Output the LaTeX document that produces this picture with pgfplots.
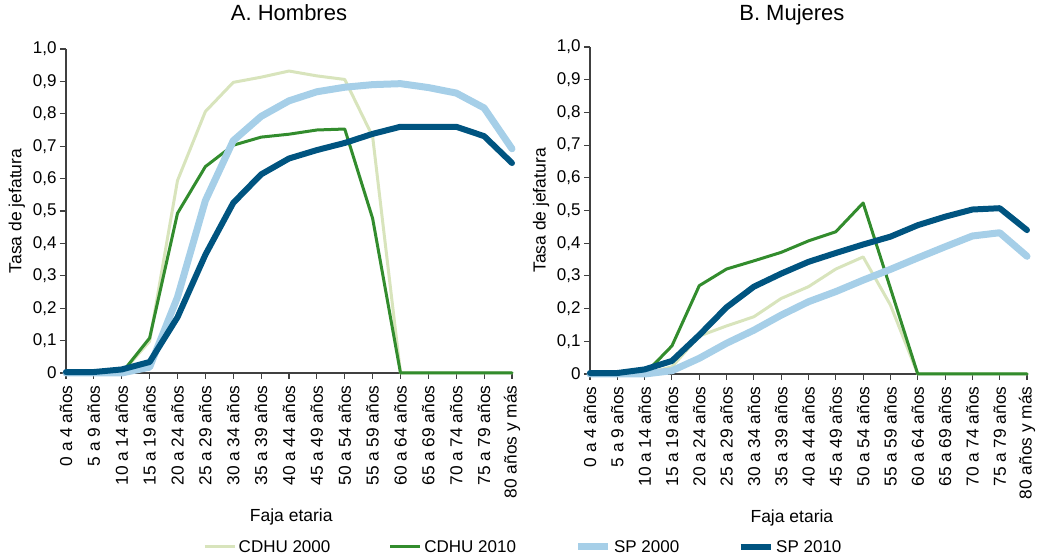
\documentclass[border=0pt]{standalone}
\usepackage{fontspec}
\setmainfont{Liberation Sans}
\usepackage{pgfplots}
\usepackage{pgfplotstable}
\pgfplotsset{compat=1.18}
\definecolor{cA}{RGB}{216,228,188}
\definecolor{cB}{RGB}{50,140,45}
\definecolor{cC}{RGB}{166,207,232}
\definecolor{cD}{RGB}{0,84,128}
\definecolor{axc}{RGB}{64,64,64}

\pgfplotstableread{
x c00 c10 s00 s10
0 0 0 0 0.003
1 0 0 0 0.003
2 0 0 0 0.011
3 0.098 0.108 0.018 0.034
4 0.594 0.493 0.234 0.172
5 0.807 0.637 0.532 0.365
6 0.897 0.703 0.717 0.525
7 0.913 0.728 0.792 0.613
8 0.932 0.737 0.840 0.662
9 0.917 0.750 0.868 0.688
10 0.906 0.753 0.882 0.710
11 0.730 0.477 0.890 0.738
12 0 0 0.893 0.760
13 0 0 0.881 0.760
14 0 0 0.864 0.760
15 0 0 0.818 0.731
16 0 0 0.692 0.648
}\hombres

\pgfplotstableread{
x c00 c10 s00 s10
0 0 0 0 0.003
1 0 0 0 0.003
2 0 0 0 0.014
3 0.022 0.086 0.010 0.040
4 0.116 0.270 0.048 0.119
5 0.147 0.321 0.094 0.204
6 0.175 0.346 0.134 0.267
7 0.231 0.372 0.180 0.307
8 0.267 0.407 0.221 0.343
9 0.321 0.435 0.252 0.370
10 0.358 0.523 0.287 0.396
11 0.211 0.262 0.320 0.420
12 0 0 0.355 0.455
13 0 0 0.389 0.481
14 0 0 0.422 0.503
15 0 0 0.432 0.507
16 0 0 0.360 0.440
}\mujeres

\pgfplotsset{
  myaxis/.style={
    scale only axis,
    xmin=0, xmax=16, ymin=0, ymax=1,
    axis lines*=left,
    axis line style={axc, line width=1.1pt},
    clip=false,
    xtick={0,...,16},
    xticklabels={0 a 4 años,5 a 9 años,10 a 14 años,15 a 19 años,20 a 24 años,25 a 29 años,30 a 34 años,35 a 39 años,40 a 44 años,45 a 49 años,50 a 54 años,55 a 59 años,60 a 64 años,65 a 69 años,70 a 74 años,75 a 79 años,80 años y más},
    ytick={0,0.1,...,1.0},
    yticklabels={0,{0,1},{0,2},{0,3},{0,4},{0,5},{0,6},{0,7},{0,8},{0,9},{1,0}},
    tick align=outside,
    major tick length=6pt,
    tick style={axc, line width=1.1pt},
    xticklabel shift=3pt,
    x tick label style={rotate=90, anchor=east, font=\fontsize{17.3}{20}\selectfont, color=black},
    y tick label style={font=\fontsize{17}{20}\selectfont, color=black},
    label style={font=\fontsize{17.5}{21}\selectfont},
    title style={font=\fontsize{22}{26}\selectfont, anchor=base},
    ylabel={Tasa de jefatura},
    xlabel={Faja etaria},
    every axis plot/.append style={line join=round, line cap=round},
    legend image code/.code={\draw[#1, line cap=butt] (0pt,0pt) -- (30pt,0pt);},
  },
  sA/.style={cA, line width=3pt},
  sB/.style={cB, line width=3pt},
  sC/.style={cC, line width=7pt},
  sD/.style={cD, line width=6pt},
}

\begin{document}
\begin{tikzpicture}
\useasboundingbox (0,0) rectangle (1042pt,559pt);
\begin{axis}[myaxis,
  at={(66pt,186pt)}, anchor=south west,
  width=446pt, height=324pt,
  title={A. Hombres},
  title style={at={(axis description cs:0.5,1)}, yshift=22pt},
  ylabel style={at={(axis description cs:-0.11,0.5)}, anchor=center},
  xlabel style={at={(axis description cs:0.505,-0.444)}, anchor=center},
  legend columns=4,
  legend style={at={(axis description cs:1.026,-0.537)}, anchor=center, draw=none, fill=none,
    font=\fontsize{17}{20}\selectfont, inner sep=0pt,
    nodes={inner xsep=2.5pt, inner ysep=0pt},
    /tikz/every even column/.append style={column sep=56pt}},
]
\addplot[sA] table[x=x, y=c00] {\hombres};
\addplot[sB] table[x=x, y=c10] {\hombres};
\addplot[sC] table[x=x, y=s00] {\hombres};
\addplot[sD] table[x=x, y=s10] {\hombres};
\legend{CDHU 2000,CDHU 2010,SP 2000,SP 2010}
\end{axis}
\begin{axis}[myaxis,
  at={(590pt,185pt)}, anchor=south west,
  width=437pt, height=327pt,
  title={B. Mujeres},
  title style={at={(axis description cs:0.462,1)}, yshift=20pt},
  ylabel style={at={(axis description cs:-0.112,0.5)}, anchor=center},
  xlabel style={at={(axis description cs:0.462,-0.44)}, anchor=center},
]
\addplot[sA] table[x=x, y=c00] {\mujeres};
\addplot[sB] table[x=x, y=c10] {\mujeres};
\addplot[sC] table[x=x, y=s00] {\mujeres};
\addplot[sD] table[x=x, y=s10] {\mujeres};
\end{axis}
\end{tikzpicture}
\end{document}
